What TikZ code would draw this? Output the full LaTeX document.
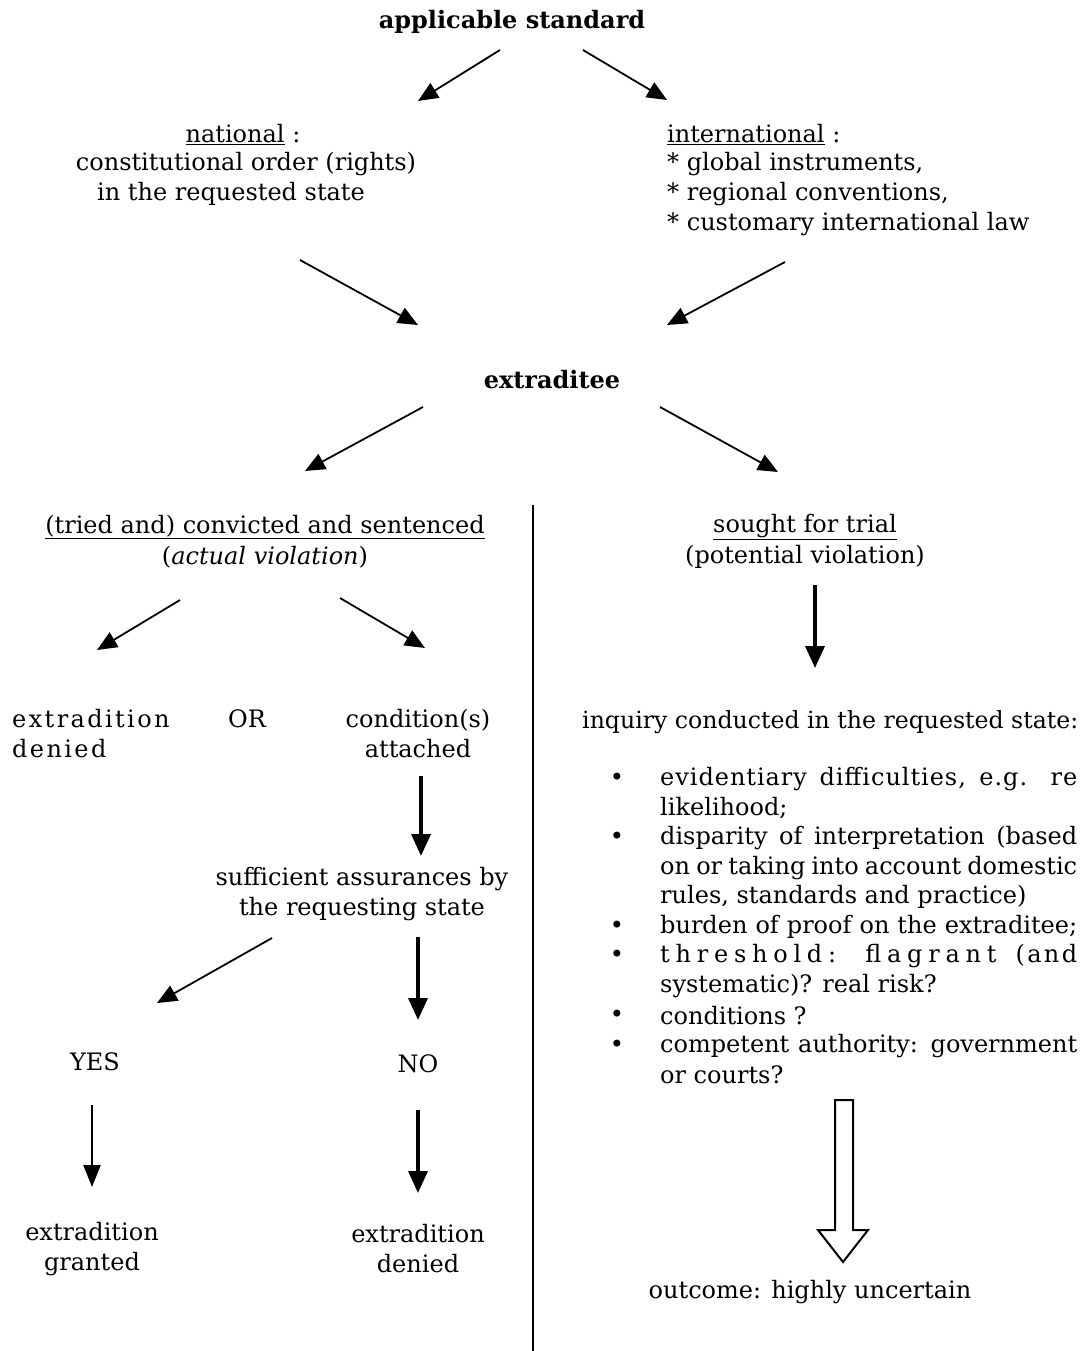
\documentclass[tikz,border=0pt]{standalone}
\usepackage{fontspec}
\setmainfont{DejaVu Serif}
\usetikzlibrary{arrows.meta}
\newcommand\fsz{\fontsize{24pt}{30pt}\selectfont}
\newcommand\spaced{\addfontfeatures{LetterSpace=10}}
\begin{document}
\begin{tikzpicture}[x=1pt,y=-1pt,
  txt/.style={inner sep=0pt, font=\fsz, align=center},
  ltxt/.style={inner sep=0pt, font=\fsz, anchor=west, align=left},
  arr/.style={-{Triangle[length=20pt,width=17pt]}, line width=1.8pt},
  thickarr/.style={-{Triangle[length=22pt,width=19pt]}, line width=3.6pt},
  medarr/.style={-{Triangle[length=22pt,width=17pt]}, line width=2.4pt}]
\useasboundingbox (0,0) rectangle (1085,1351);
\fill[white] (0,0) rectangle (1085,1351);

% texts
\node[txt, font=\fsz\bfseries] (std) at (512,22) {applicable standard};
\node[txt] (nat1) at (243,135) {\underline{national} :};
\node[txt] (nat2) at (246,164) {constitutional order (rights)};
\node[txt] (nat3) at (231,194) {in the requested state};
\node[ltxt] (int1) at (667,135) {\underline{international} :};
\node[ltxt] (int2) at (667,164) {* global instruments,};
\node[ltxt] (int3) at (667,194) {* regional conventions,};
\node[ltxt] (int4) at (667,224) {* customary international law};
\node[txt, font=\fsz\bfseries] (ext) at (552,380) {extraditee};
\node[txt] (conv1) at (265,527) {\underline{(tried and) convicted and sentenced}};
\node[txt] (conv2) at (265,557) {(\textit{actual violation})};
\node[txt] (sought1) at (805,527) {\underline{sought for trial}};
\node[txt] (sought2) at (805,557) {(potential violation)};
\node[ltxt] (exden) at (12,734) {\spaced extradition\\\spaced denied};
\node[txt] (or) at (247,719) {OR};
\node[txt] (cond) at (418,734) {condition(s)\\attached};
\node[txt] (suff) at (362,894) {sufficient assurances by\\the requesting state};
\node[txt] (yes) at (95,1062) {YES};
\node[txt] (no) at (418,1064) {NO};
\node[txt] (grant) at (92,1249) {extradition\\granted};
\node[txt] (den2) at (418,1249) {extradition\\denied};
\node[ltxt, font=\fontsize{23.6pt}{30pt}\selectfont] (inq) at (582,722) {inquiry conducted in the requested state:};
\node[txt] (outc) at (810,1292) {outcome: highly uncertain};

% bullet list
\foreach \yy in {779,838,927,956,1016,1046} {\node[txt] at (617,\yy) {•};}
\node[ltxt] (b1) at (660,779) {\makebox[417pt][s]{\addfontfeatures{LetterSpace=4}evidentiary difficulties, e.g. re}};
\node[ltxt] (b1b) at (660,808) {likelihood;};
\node[ltxt] (b2) at (660,838) {\makebox[417pt][s]{disparity of interpretation (based}};
\node[ltxt] (b2b) at (660,868) {\makebox[417pt][s]{on or taking into account domestic}};
\node[ltxt] (b2c) at (660,897) {rules, standards and practice)};
\node[ltxt] (b3) at (660,927) {\makebox[417pt][s]{burden of proof on the extraditee;}};
\node[ltxt] (b4) at (660,956) {\makebox[417pt][s]{\addfontfeatures{LetterSpace=24}threshold: flagrant \addfontfeatures{LetterSpace=10}(and}};
\node[ltxt] (b4b) at (660,986) {systematic)? real risk?};
\node[ltxt] (b5) at (660,1016) {conditions ?};
\node[ltxt] (b6) at (660,1046) {\makebox[417pt][s]{competent authority: government}};
\node[ltxt] (b6b) at (660,1075) {or courts?};

% arrow end points
\coordinate (a1s) at (500,50);  \coordinate (a1e) at (418,101);
\coordinate (a2s) at (583,50);  \coordinate (a2e) at (667,100);
\coordinate (a3s) at (300,260); \coordinate (a3e) at (418,325);
\coordinate (a4s) at (785,262); \coordinate (a4e) at (667,325);
\coordinate (a5s) at (423,407); \coordinate (a5e) at (305,471);
\coordinate (a6s) at (660,407); \coordinate (a6e) at (778,472);
\coordinate (a7s) at (180,600); \coordinate (a7e) at (97,650);
\coordinate (a8s) at (340,598); \coordinate (a8e) at (425,648);
\coordinate (a9s) at (815,585); \coordinate (a9e) at (815,668);
\coordinate (a10s) at (421,776); \coordinate (a10e) at (421,856);
\coordinate (a11s) at (272,938); \coordinate (a11e) at (157,1003);
\coordinate (a12s) at (418,937); \coordinate (a12e) at (418,1020);
\coordinate (a13s) at (92,1105); \coordinate (a13e) at (92,1187);
\coordinate (a14s) at (418,1110); \coordinate (a14e) at (418,1193);

\draw[arr] (a1s) -- (a1e);
\draw[arr] (a2s) -- (a2e);
\draw[arr] (a3s) -- (a3e);
\draw[arr] (a4s) -- (a4e);
\draw[arr] (a5s) -- (a5e);
\draw[arr] (a6s) -- (a6e);
\draw[arr] (a7s) -- (a7e);
\draw[arr] (a8s) -- (a8e);
\draw[thickarr] (a9s) -- (a9e);
\draw[thickarr] (a10s) -- (a10e);
\draw[arr] (a11s) -- (a11e);
\draw[thickarr] (a12s) -- (a12e);
\draw[medarr] (a13s) -- (a13e);
\draw[thickarr] (a14s) -- (a14e);

% separator
\coordinate (sepT) at (533,505); \coordinate (sepB) at (533,1351);
\draw[line width=2pt] (sepT) -- (sepB);

% hollow block arrow
\draw[line width=2pt, line join=miter] (835,1100) -- (853,1100) -- (853,1230) -- (868,1230) -- (843,1262) -- (818,1230) -- (835,1230) -- cycle;
\end{tikzpicture}
\end{document}
